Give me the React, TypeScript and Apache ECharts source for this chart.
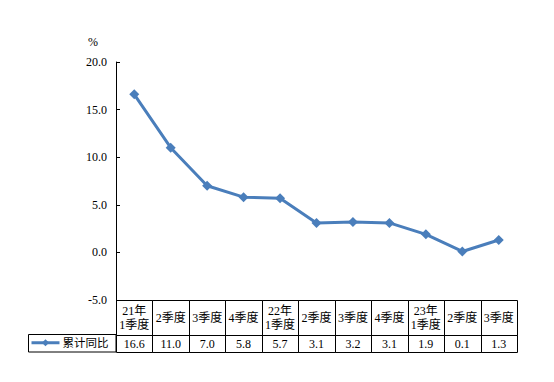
import React, { useEffect, useRef } from "react";
import * as echarts from "echarts";

const categories = ["21年\n1季度", "2季度", "3季度", "4季度", "22年\n1季度", "2季度", "3季度", "4季度", "23年\n1季度", "2季度", "3季度"];
const seriesName = "累计同比";
const values = [16.6, 11.0, 7.0, 5.8, 5.7, 3.1, 3.2, 3.1, 1.9, 0.1, 1.3];
const yTicks = { min: -5, max: 20, interval: 5 };

const FONT = "Liberation Serif, Noto Sans CJK SC";
const LINE_COLOR = "#4a7ebb";

export default function App() {
  const ref = useRef<HTMLDivElement>(null);
  useEffect(() => {
    if (!ref.current) return;
    const chart = echarts.init(ref.current, null, { renderer: "svg" });
    const option: any = {
      animation: false,
      backgroundColor: "#fff",
      textStyle: { fontFamily: FONT },
      legend: {
        data: [seriesName],
        left: 30,
        top: 337,
        itemWidth: 28,
        itemHeight: 9,
        itemGap: 4,
        padding: 0,
        lineStyle: { width: 3 },
        textStyle: { fontFamily: FONT, fontSize: 11.5, color: "#000", padding: [0, 0, 0, -2] },
      },
      grid: [
        { left: 116, right: 37, top: 62, bottom: 82 },
        { left: 116, right: 37, top: 300, height: 52 },
      ],
      xAxis: [
        {
          type: "category",
          gridIndex: 0,
          data: categories,
          boundaryGap: true,
          axisLine: { show: false },
          axisTick: { show: false },
          axisLabel: { show: false },
          splitLine: { show: false },
        },
        {
          type: "category",
          gridIndex: 1,
          data: categories,
          boundaryGap: true,
          axisLine: { show: false },
          axisTick: { show: false },
          axisLabel: { show: false },
          splitLine: { show: false },
        },
      ],
      yAxis: [
        {
          type: "value",
          gridIndex: 0,
          min: yTicks.min,
          max: yTicks.max,
          interval: yTicks.interval,
          name: "%",
          nameLocation: "end",
          nameGap: 14,
          nameTextStyle: { fontFamily: FONT, fontSize: 12, color: "#000", align: "right", padding: [0, 18, 0, 0] },
          axisLine: { show: true, lineStyle: { color: "#000", width: 1 } },
          axisTick: { show: true, inside: true, length: 4, lineStyle: { color: "#000" } },
          axisLabel: {
            color: "#000",
            fontFamily: FONT,
            fontSize: 12,
            margin: 9,
            formatter: (v: number) => v.toFixed(1),
          },
          splitLine: { show: false },
        },
        {
          type: "value",
          gridIndex: 1,
          min: 0,
          max: 3,
          show: false,
        },
      ],
      graphic: [
        {
          type: "rect",
          shape: { x: 28.5, y: 334.5, width: 87.5, height: 17.5 },
          style: { fill: "none", stroke: "#000", lineWidth: 1 },
          z: 10,
        },
      ],
      series: [
        {
          name: seriesName,
          type: "line",
          xAxisIndex: 0,
          yAxisIndex: 0,
          data: values,
          symbol: "diamond",
          symbolSize: 10,
          lineStyle: { color: LINE_COLOR, width: 3 },
          itemStyle: { color: LINE_COLOR },
          label: { show: false },
        },
        {
          name: "table",
          type: "custom",
          xAxisIndex: 1,
          yAxisIndex: 1,
          data: values.map((v, i) => [i, v]),
          silent: true,
          renderItem: (params: any, api: any) => {
            const i = api.value(0);
            const v = api.value(1);
            const top = api.coord([i, 3]);
            const mid = api.coord([i, 1]);
            const bot = api.coord([i, 0]);
            const w = api.size([1, 0])[0];
            const x0 = Math.round(top[0] - w / 2) + 0.5;
            const x1 = Math.round(top[0] + w / 2) + 0.5;
            const yt = Math.round(top[1]) + 0.5;
            const ym = Math.round(mid[1]) + 0.5;
            const yb = Math.round(bot[1]) + 0.5;
            return {
              type: "group",
              children: [
                { type: "rect", shape: { x: x0, y: yt, width: x1 - x0, height: ym - yt }, style: { fill: "none", stroke: "#000", lineWidth: 1 } },
                { type: "rect", shape: { x: x0, y: ym, width: x1 - x0, height: yb - ym }, style: { fill: "none", stroke: "#000", lineWidth: 1 } },
                {
                  type: "text",
                  style: {
                    text: categories[i],
                    x: top[0],
                    y: (yt + ym) / 2,
                    align: "center",
                    verticalAlign: "middle",
                    fontFamily: FONT,
                    fontSize: 12,
                    lineHeight: 14,
                    fill: "#000",
                  },
                },
                {
                  type: "text",
                  style: {
                    text: Number(v).toFixed(1),
                    x: top[0],
                    y: (ym + yb) / 2,
                    align: "center",
                    verticalAlign: "middle",
                    fontFamily: FONT,
                    fontSize: 12,
                    fill: "#000",
                  },
                },
              ],
            };
          },
        },
      ],
    };
    chart.setOption(option);
    return () => chart.dispose();
  }, []);
  return <div ref={ref} style={{ width: 554, height: 382, position: "absolute", left: 0, top: 0 }} />;
}
